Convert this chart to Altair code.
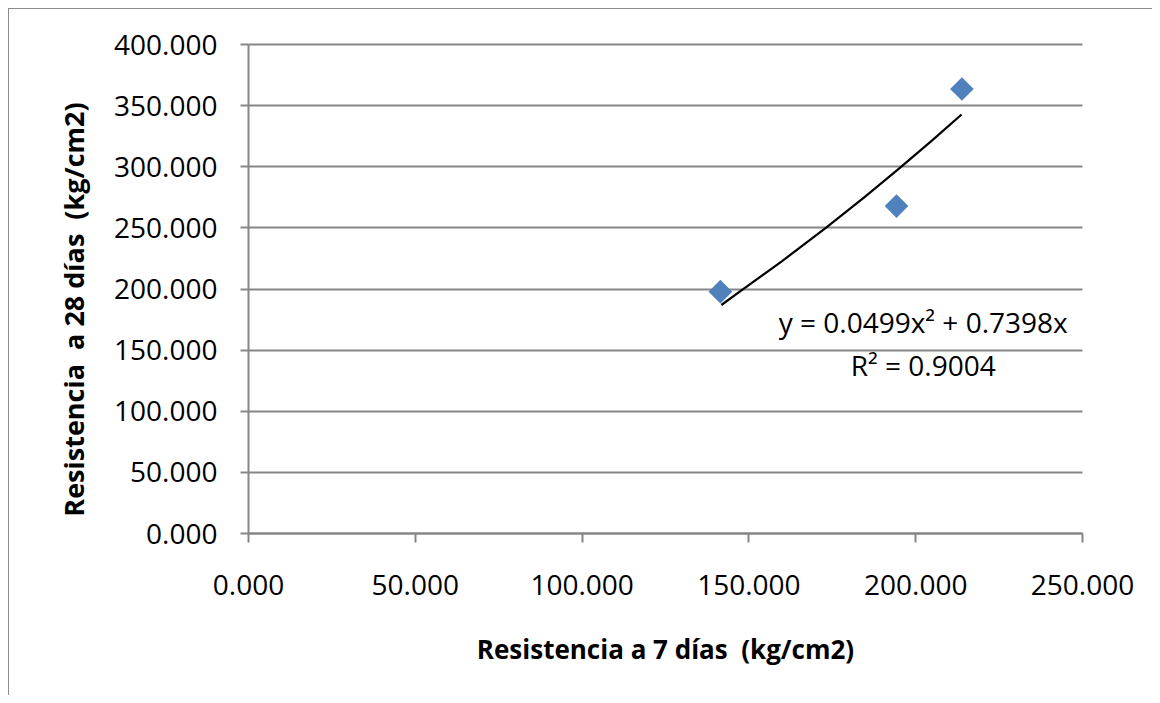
import altair as alt
import pandas as pd

x7 = [141.6, 194.4, 214.0]
y28 = [197.4, 267.4, 363.2]

# Trend line as drawn
trend_x = [141.9, 147.4, 160.0, 173.4, 185.0, 195.4, 205.0, 213.9]
trend_y = [186.5, 197.5, 222.2, 250.0, 275.2, 298.6, 320.9, 342.3]

# Trend line label
label_text = ["y = 0.0499x² + 0.7398x", "R² = 0.9004"]
label_x = [202.4, 202.4]
label_y = [163.6, 128.5]

NB = "\u00a0"
x_title = "Resistencia a 7 días" + NB + " (kg/cm2)"
y_title = "Resistencia" + NB + " a 28 días" + NB + " (kg/cm2)"

FONT = "Open Sans"
GRID = "#868686"
FS = 28

pts = pd.DataFrame({"x": x7, "y": y28})
trend = pd.DataFrame({"x": trend_x, "y": trend_y, "o": list(range(len(trend_x)))})
lab = pd.DataFrame({"t": label_text, "x": label_x, "y": label_y})

xs = alt.Scale(domain=[0, 250], nice=False, zero=True)
ys = alt.Scale(domain=[0, 400], nice=False, zero=True)

xaxis = alt.Axis(
    title=x_title, values=[0, 50, 100, 150, 200, 250], format=".3f",
    grid=False, domainColor=GRID, domainWidth=2, tickColor=GRID, tickWidth=2,
    tickSize=9, labelPadding=30, labelFont=FONT, labelFontSize=FS,
    labelColor="black", labelBaseline="top", labelFlush=False, labelOverlap=False,
    labelBound=False,
    titleFont=FONT, titleFontSize=26, titleFontWeight="bold", titleColor="black",
    titleBaseline="alphabetic", titleY=125,
)
yaxis = alt.Axis(
    title=y_title, values=[0, 50, 100, 150, 200, 250, 300, 350, 400], format=".3f",
    grid=True, gridColor=GRID, gridWidth=2, gridOpacity=1,
    domainColor=GRID, domainWidth=2, tickColor=GRID, tickWidth=2,
    tickSize=8, labelPadding=23, labelFont=FONT, labelFontSize=FS,
    labelColor="black", labelBaseline="middle", labelOffset=2,
    labelFlush=False, labelOverlap=False, labelBound=False,
    titleFont=FONT, titleFontSize=27, titleFontWeight="bold", titleColor="black",
    titleAngle=270, titleBaseline="alphabetic", titleAlign="center",
    titleX=-165, titleY=265,
)

base_x = alt.X("x:Q", scale=xs, axis=xaxis)
base_y = alt.Y("y:Q", scale=ys, axis=yaxis)

points = alt.Chart(pts).mark_point(
    shape="diamond", filled=True, size=560, color="#4F81BD", opacity=1
).encode(x=base_x, y=base_y)

line = alt.Chart(trend).mark_line(color="black", strokeWidth=2.2).encode(
    x=alt.X("x:Q", scale=xs), y=alt.Y("y:Q", scale=ys), order="o:Q"
)

labels = alt.Chart(lab).mark_text(
    font=FONT, fontSize=FS, color="black", align="center", baseline="alphabetic"
).encode(x=alt.X("x:Q", scale=xs), y=alt.Y("y:Q", scale=ys), text="t:N")

# chart-area border (top and left edges, as in the original)
border_top = alt.Chart(pd.DataFrame({"a": [0]})).mark_rule(
    color="#8c8c8c", strokeWidth=2, clip=False
).encode(x=alt.value(-240), x2=alt.value(920), y=alt.value(-36))
border_left = alt.Chart(pd.DataFrame({"a": [0]})).mark_rule(
    color="#8c8c8c", strokeWidth=2, clip=False
).encode(x=alt.value(-240), y=alt.value(-36), y2=alt.value(660))

chart = alt.layer(border_top, border_left, line, points, labels).properties(
    width=834, height=489,
    autosize=alt.AutoSizeParams(type="none"),
    padding={"left": 240, "top": 36, "right": 70, "bottom": 162},
    background="white",
).configure_view(stroke=None)

chart.save("out.html", embed_options={"renderer": "svg", "actions": False})
